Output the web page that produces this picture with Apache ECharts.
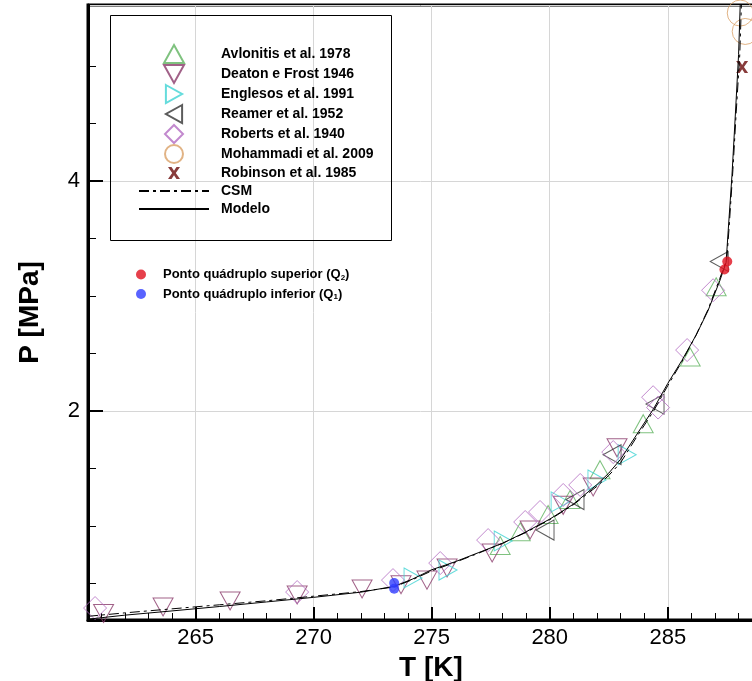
<!DOCTYPE html>
<html><head><meta charset="utf-8">
<script src="https://cdn.jsdelivr.net/npm/echarts@6/dist/echarts.min.js"></script>
<style>html,body{margin:0;padding:0;background:#fff}#c{width:752px;height:681px}</style>
</head><body><div id="c"></div>
<script>
// Axis ranges
const xMin = 260.44, xMax = 289.5, yMin = 0.183, yMax = 5.53;
const xMinorTicks = [261,262,263,264,266,267,268,269,271,272,273,274,276,277,278,279,281,282,283,284,286,287,288,289];
const yMinorTicks = [0.5,1,1.5,2.5,3,3.5,4.5,5];

// Experimental data [T (K), P (MPa)]
const avlonitis = [[277.9,0.83],[278.75,0.95],[279.93,1.10],[280.86,1.23],[282.13,1.49],[283.96,1.89],[285.95,2.47],[287.05,3.08]];
const deaton = [[261.1,0.24],[263.62,0.296],[266.46,0.348],[269.30,0.40],[272.05,0.452],[273.70,0.49],[274.80,0.53],[275.65,0.635],[277.56,0.765],[279.17,0.965],[280.57,1.18],[281.84,1.34],[282.85,1.68]];
const englesos = [[274.21,0.548],[275.69,0.617],[278.03,0.87],[280.44,1.21],[282.0,1.40],[283.28,1.62]];
const reamer = [[279.8,0.965],[281.07,1.23],[282.64,1.62],[284.46,2.06],[287.18,3.30]];
const roberts = [[260.74,0.287],[269.30,0.426],[273.36,0.53],[275.36,0.678],[277.39,0.878],[278.96,1.035],[279.59,1.122],[280.57,1.27],[281.29,1.357],[282.69,1.643],[284.38,2.12],[284.59,2.03],[285.82,2.53],[286.92,3.05]];
const mohammadi = [[288.07,5.46],[288.28,5.30]];
const robinson = [[288.15,4.99]];
const q2 = [[287.52,3.30],[287.40,3.23]];
const q1 = [[273.41,0.505],[273.41,0.455]];

// Curves
const csm = [[260.44,0.215],[262,0.245],[264,0.28],[266,0.315],[268,0.35],[270,0.39],[272,0.43],[273.4,0.47],[274.2,0.535],[275,0.61],[276,0.685],[277,0.765],[278,0.85],[279,0.945],[280,1.055],[281,1.185],[282,1.345],[282.5,1.44],[283,1.55],[283.7,1.78],[284.4,2.0],[285,2.22],[285.6,2.43],[286.2,2.66],[286.7,2.88],[287.2,3.15],[287.5,3.32],[287.6,3.6],[287.76,4.1],[287.9,4.6],[288.05,5.1],[288.13,5.6]];
const modelo = [[260.44,0.19],[262,0.225],[264,0.262],[266,0.30],[268,0.34],[270,0.38],[272,0.425],[273.4,0.475],[274.2,0.54],[275,0.62],[276,0.69],[277,0.77],[278,0.85],[279,0.95],[280,1.06],[281,1.19],[282,1.36],[282.5,1.46],[283,1.58],[283.7,1.80],[284.4,2.02],[285,2.24],[285.6,2.44],[286.2,2.66],[286.7,2.87],[287.2,3.13],[287.47,3.29],[287.56,3.57],[287.72,4.05],[287.85,4.53],[288.0,5.1],[288.08,5.6]];

const names = ['Avlonitis et al. 1978','Deaton e Frost 1946','Englesos et al. 1991','Reamer et al. 1952','Roberts et al. 1940','Mohammadi et al. 2009','Robinson et al. 1985','CSM','Modelo'];
const qNames = ['Ponto quádruplo superior (Q2)','Ponto quádruplo inferior (Q1)'];

const FONT = 'Liberation Sans, Arial, sans-serif';
const SYM = {
  up: 'path://M10,0 L20,18 L0,18 Z',
  down: 'path://M0,0 L20,0 L10,18 Z',
  right: 'path://M0,0 L18,10 L0,20 Z',
  left: 'path://M18,0 L0,10 L18,20 Z',
  diamond: 'path://M11,0 L22,11 L11,22 L0,11 Z',
  x: 'path://M0,0 L3.5,0 L6,3.8 L8.5,0 L12,0 L7.8,6 L12,12 L8.5,12 L6,8.2 L3.5,12 L0,12 L4.2,6 Z',
  xLegend: 'path://M-3,-3 L-3,-3 M15,15 L15,15 M0,0 L3.5,0 L6,3.8 L8.5,0 L12,0 L7.8,6 L12,12 L8.5,12 L6,8.2 L3.5,12 L0,12 L4.2,6 Z'
};

function hollow(name, data, symbol, size, color) {
  return {
    name, type: 'scatter', data, symbol, symbolSize: size,
    itemStyle: { color: 'rgba(255,255,255,0)', borderColor: color, borderWidth: 1 },
    z: 2, clip: false
  };
}

const legendData = names.map((n, i) => {
  if (i >= 7) return { name: n, itemStyle: { color: 'rgba(0,0,0,0)', borderColor: 'rgba(0,0,0,0)', borderWidth: 0 } };
  if (i === 6) return { name: n, icon: SYM.xLegend };
  return { name: n };
});

const chart = echarts.init(document.getElementById('c'));
chart.setOption({
  animation: false,
  backgroundColor: '#fff',
  grid: { left: 88, top: 5, width: 686, height: 615, show: true, borderColor: '#000', borderWidth: 3,
    backgroundColor: 'transparent', outerBoundsMode: 'none', containLabel: false },
  xAxis: [{
    type: 'value', min: xMin, max: xMax, splitNumber: 5,
    name: 'T [K]', nameLocation: 'middle', nameGap: 26,
    nameTextStyle: { fontSize: 28, fontWeight: 'bold', fontFamily: FONT, color: '#000' },
    axisLine: { onZero: false, lineStyle: { color: '#000', width: 3 } },
    axisTick: { inside: true, length: 13, lineStyle: { color: '#000', width: 2 } },
    axisLabel: { fontSize: 22, fontFamily: FONT, color: '#000', margin: 7, showMinLabel: false, showMaxLabel: false },
    splitLine: { show: true, lineStyle: { color: '#d6d6d6', width: 1 } }
  }, {
    type: 'value', min: xMin, max: xMax, position: 'bottom', gridIndex: 0,
    axisLine: { show: false }, axisLabel: { show: false }, splitLine: { show: false },
    axisTick: { inside: true, length: 7, customValues: xMinorTicks, lineStyle: { color: '#000', width: 1 } }
  }],
  yAxis: [{
    type: 'value', min: yMin, max: yMax, splitNumber: 3,
    name: 'P [MPa]', nameLocation: 'middle', nameGap: 44,
    nameTextStyle: { fontSize: 28, fontWeight: 'bold', fontFamily: FONT, color: '#000' },
    axisLine: { onZero: false, lineStyle: { color: '#000', width: 3 } },
    axisTick: { inside: true, length: 15, lineStyle: { color: '#000', width: 2 } },
    axisLabel: { fontSize: 22, fontFamily: FONT, color: '#000', margin: 8, showMinLabel: false, showMaxLabel: false },
    splitLine: { show: true, lineStyle: { color: '#d6d6d6', width: 1 } }
  }, {
    type: 'value', min: yMin, max: yMax, position: 'left', gridIndex: 0,
    axisLine: { show: false }, axisLabel: { show: false }, splitLine: { show: false },
    axisTick: { inside: true, length: 8, customValues: yMinorTicks, lineStyle: { color: '#000', width: 1 } }
  }],
  legend: [{
    orient: 'vertical', left: 138, top: 44, padding: 0, itemWidth: 70, itemHeight: 18, itemGap: 0,
    selectedMode: false, data: legendData, symbolKeepAspect: true,
    textStyle: { fontSize: 14, fontWeight: 'bold', fontFamily: FONT, color: '#000', lineHeight: 18, padding: [0, 0, 0, 7] }
  }, {
    orient: 'vertical', left: 136, top: 268, padding: 0, itemWidth: 10, itemHeight: 10, itemGap: 6,
    selectedMode: false, data: qNames, icon: 'circle',
    formatter: n => n.replace(/\(Q(\d)\)/, '(Q{s|$1})'),
    textStyle: { fontSize: 13, fontWeight: 'bold', fontFamily: FONT, color: '#000', padding: [0, 0, 0, 12],
      rich: { s: { fontSize: 8, fontWeight: 'bold', fontFamily: FONT, color: '#000', padding: [6, 0, 0, 0] } } }
  }],
  graphic: [{
    type: 'rect', shape: { x: 110.5, y: 15.5, width: 281, height: 225 },
    style: { fill: 'transparent', stroke: '#000', lineWidth: 1 }, z: 1
  }],
  series: [
    hollow(names[0], avlonitis, SYM.up, [20, 18], '#5fb35f'),
    hollow(names[1], deaton, SYM.down, [20, 18], '#8a3a6a'),
    hollow(names[2], englesos, SYM.right, [18, 20], '#3fd3d3'),
    hollow(names[3], reamer, SYM.left, [18, 20], '#333333'),
    hollow(names[4], roberts, SYM.diamond, 23, '#b36bc2'),
    hollow(names[5], mohammadi, 'circle', 26, '#d9a066'),
    { name: names[6], type: 'scatter', data: robinson, symbol: SYM.x, symbolSize: 12, itemStyle: { color: '#6a0a0a' }, z: 3 },
    { name: names[7], type: 'line', data: csm, symbol: 'none', lineStyle: { color: '#000', width: 1, type: [10, 4, 3, 4] }, z: 4 },
    { name: names[8], type: 'line', data: modelo, symbol: 'none', lineStyle: { color: '#000', width: 1 }, z: 4 },
    { name: qNames[0], type: 'scatter', data: q2, symbol: 'circle', symbolSize: 10, itemStyle: { color: '#e0101e' }, z: 5 },
    { name: qNames[1], type: 'scatter', data: q1, symbol: 'circle', symbolSize: 10, itemStyle: { color: '#2f3cff' }, z: 5 }
  ]
});
</script></body></html>
